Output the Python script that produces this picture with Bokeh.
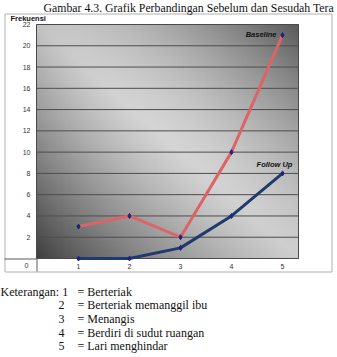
import numpy as np
from bokeh.plotting import figure
from bokeh.models import Range1d
from bokeh.core.properties import value
from bokeh.embed import file_html
from bokeh.resources import INLINE

# ---- data ----
categories = [1, 2, 3, 4, 5]
baseline = [3, 4, 2, 10, 21]
follow_up = [0, 0, 1, 4, 8]
y_ticks = list(range(0, 23, 2))
series_names = ["Baseline", "Follow Up"]
legend_items = ["Berteriak", "Berteriak memanggil ibu", "Menangis",
                "Berdiri di sudut ruangan", "Lari menghindar"]
title_text = "Gambar 4.3. Grafik Perbandingan Sebelum dan Sesudah Tera"
y_title = "Frekuensi"
legend_head = "Keterangan:"

# ---- layout (canvas pixels) ----
W, H = 337, 357
FL, FR, FT, FB = 36, 298, 24, 258          # plot frame edges
BL, BR, BT, BB = 4, 331, 13, 271           # outer chart box
X0, X1 = 0.176, 5.314                      # chart x domain
Y0, Y1 = 0, 22                             # chart y domain

# the figure frame is the whole canvas; a second pair of ranges maps the chart domain
p = figure(width=W, height=H, output_backend="svg", toolbar_location=None,
           x_range=Range1d(0, W), y_range=Range1d(H, 0),
           x_axis_type=None, y_axis_type=None, min_border=0)
p.outline_line_color = None
p.background_fill_color = "white"
p.border_fill_color = "white"
p.grid.visible = False

kx = (FR - FL) / (X1 - X0)
ky = (FB - FT) / (Y1 - Y0)
p.extra_x_ranges = {"c": Range1d(X0 - FL / kx, X0 + (W - FL) / kx)}
p.extra_y_ranges = {"c": Range1d(Y0 - (H - FB) / ky, Y1 + FT / ky)}
C = dict(x_range_name="c", y_range_name="c")

# gradient background of the plot area
ny, nx = 120, 160
u = np.linspace(0, 1, nx)[None, :]
w = np.linspace(1, 0, ny)[:, None]
d = w - u
b = (205 - 130 * np.clip(d, 0, None) ** 1.15 - 115 * np.clip(-d, 0, None) ** 1.5
     + 8 * np.exp(-((u - 0.5) ** 2 + (w - 0.45) ** 2) * 4) - 12 * (1 - u) ** 6)
b = np.clip(b, 0, 255).astype(np.uint8)
img = np.empty((ny, nx), dtype=np.uint32)
v = img.view(dtype=np.uint8).reshape((ny, nx, 4))
v[..., 0] = b
v[..., 1] = b
v[..., 2] = b
v[..., 3] = 255
p.image_rgba(image=[img], x=X0, y=Y0, dw=X1 - X0, dh=Y1 - Y0, level="image", **C)

# grid lines and plot frame
p.segment(x0=X0, x1=X1, y0=y_ticks, y1=y_ticks, line_color="#4d4d4d",
          line_width=1, **C)
p.quad(left=X0, right=X1, bottom=Y0, top=Y1, fill_alpha=0,
       line_color="#4a4a4a", line_width=1, **C)

# outer box and table-like cross lines (canvas space)
p.quad(left=BL + 0.5, right=BR + 0.5, top=BT + 0.5, bottom=BB + 0.5, fill_alpha=0,
       line_color="#b0b0b0", line_width=1)
p.line([BL, FL], [FB + 0.5, FB + 0.5], line_color="#5a5a5a", line_width=1)
p.line([FL + 0.5, FL + 0.5], [FB, BB], line_color="#5a5a5a", line_width=1)

# tick labels
tick_font = value("Liberation Sans")
p.text(x=X0, y=y_ticks[1:], text=[str(t) for t in y_ticks[1:]], x_offset=-6,
       text_align="right", text_baseline="middle", text_font=tick_font,
       text_font_size="7px", text_color="#333333", **C)
p.text(x=X0, y=y_ticks[:1], text=[str(t) for t in y_ticks[:1]], x_offset=-8, y_offset=7,
       text_align="right", text_baseline="middle", text_font=tick_font,
       text_font_size="7px", text_color="#333333", **C)
p.text(x=categories, y=Y0, text=[str(c) for c in categories], y_offset=8,
       text_align="center", text_baseline="middle", text_font=tick_font,
       text_font_size="7px", text_color="#333333", **C)

# series
p.line(categories, baseline, line_color="#dc6464", line_width=3, **C)
p.line(categories, follow_up, line_color="#1f3b6e", line_width=3, **C)
p.scatter(categories, baseline, marker="diamond", size=5, color="#22227e", **C)
p.scatter(categories, follow_up, marker="diamond", size=5, color="#22227e", **C)

lab_font = value("Liberation Sans")
p.text(x=categories[-1:], y=baseline[-1:], text=series_names[:1], x_offset=-6, y_offset=-1,
       text_align="right", text_baseline="middle", text_font=lab_font,
       text_font_size="7.5px", text_font_style="bold italic", text_color="#111111", **C)
p.text(x=categories[-1:], y=follow_up[-1:], text=series_names[1:], x_offset=-8, y_offset=-9,
       text_align="center", text_baseline="middle", text_font=lab_font,
       text_font_size="7.5px", text_font_style="bold italic", text_color="#111111", **C)

# texts outside the plot area (canvas space)
p.text(x=[10], y=[17.5], text=[y_title], text_baseline="middle", text_font=lab_font,
       text_font_size="7.5px", text_font_style="bold", text_color="#111111")
serif = value("Liberation Serif")
p.text(x=[43], y=[7], text=[title_text], text_baseline="middle", text_font=serif,
       text_font_size="11.8px", text_color="#111111")

rows_y = [291, 304, 318, 332, 345]
first = [legend_head + " " + str(categories[0])]
p.text(x=[0], y=rows_y[:1], text=first, text_baseline="middle", text_font=serif,
       text_font_size="12px", text_color="#111111")
p.text(x=[58] * 4, y=rows_y[1:], text=[str(c) for c in categories[1:]],
       text_baseline="middle", text_font=serif, text_font_size="12px",
       text_color="#111111")
p.text(x=[77] * 5, y=rows_y, text=["= " + s for s in legend_items],
       text_baseline="middle", text_font=serif, text_font_size="12px",
       text_color="#111111")

open("out.html", "w").write(file_html(p, INLINE))
